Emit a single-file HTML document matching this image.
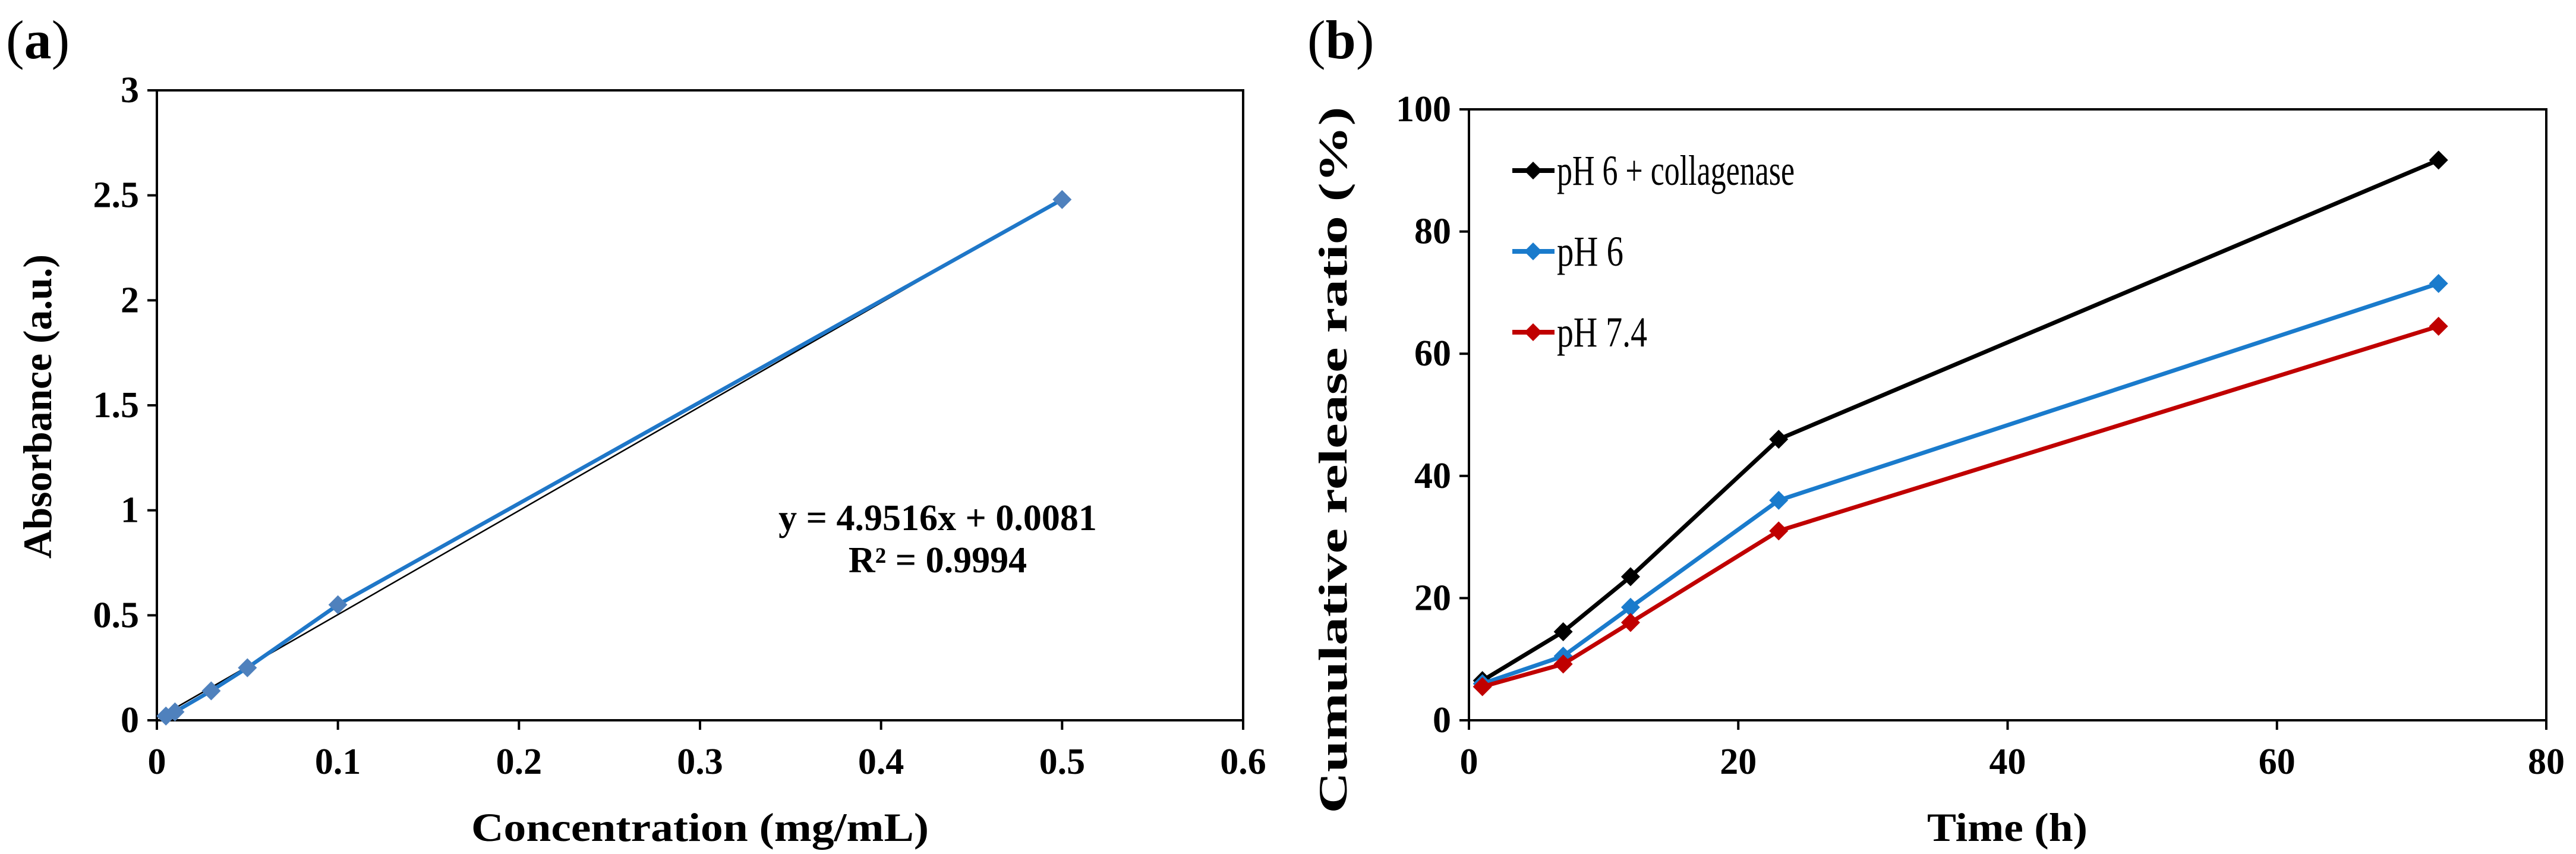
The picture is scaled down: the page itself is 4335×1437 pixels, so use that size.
<!DOCTYPE html>
<html><head><meta charset="utf-8"><style>
html,body{margin:0;padding:0;background:#fff;}
svg{display:block;}
text{font-family:"Liberation Serif",serif;}
</style></head><body>
<svg id="fig" width="4335" height="1437" viewBox="0 0 4335 1437" xmlns="http://www.w3.org/2000/svg">
<text x="10" y="98" font-size="92">(<tspan font-weight="bold">a</tspan>)</text>
<text x="2200" y="98" font-size="92">(<tspan font-weight="bold">b</tspan>)</text>
<g id="ga"></g>
<g id="gb"></g>
</svg>
<script>
// Panel (a) data
const aConc = [0.005, 0.01, 0.03, 0.05, 0.1, 0.5];
const aAbs = [0.02, 0.04, 0.14, 0.25, 0.55, 2.48];
const aSlope = [4.9516];
const aIntercept = [0.0081];
const aXTicks = [0, 0.1, 0.2, 0.3, 0.4, 0.5, 0.6];
const aYTicks = [0, 0.5, 1, 1.5, 2, 2.5, 3];
// Panel (b) data
const bTime = [1, 7, 12, 23, 72];
const bCollagenase = [6.5, 14.5, 23.5, 46, 91.7];
const bPH6 = [6, 10.5, 18.5, 36, 71.5];
const bPH74 = [5.5, 9.2, 16, 31, 64.5];
const bSeriesNames = ["pH 6 +  collagenase", "pH 6", "pH 7.4"];
const bXTicks = [0, 20, 40, 60, 80];
const bYTicks = [0, 20, 40, 60, 80, 100];

const NS = "http://www.w3.org/2000/svg";
function mk(parent, tag, attrs, txt) {
  const e = document.createElementNS(NS, tag);
  for (const k in attrs) e.setAttribute(k, attrs[k]);
  if (txt !== undefined) e.textContent = txt;
  parent.appendChild(e);
  return e;
}
function diamond(g, x, y, r, color) {
  return mk(g, "polygon", {points: `${x},${y-r} ${x+r},${y} ${x},${y+r} ${x-r},${y}`, fill: color});
}
function frame(g, L, R, T, B, xt, yt, sx, sy, fmt) {
  const f = mk(g, "rect", {x: L, y: T, width: R-L, height: B-T, fill: "none", stroke: "#000", "stroke-width": 4});
  
  
  xt.forEach(v => {
    const x = sx(v);
    mk(g, "line", {x1: x, x2: x, y1: B, y2: B+16, stroke: "#000", "stroke-width": 4});
    const t = mk(g, "text", {x: x, y: B+90, "font-size": 62, "font-weight": "bold", "text-anchor": "middle"}, fmt(v));
    
    
  });
  yt.forEach(v => {
    const y = sy(v);
    mk(g, "line", {x1: L-16, x2: L, y1: y, y2: y, stroke: "#000", "stroke-width": 4});
    const t = mk(g, "text", {x: L-30, y: y+20, "font-size": 62, "font-weight": "bold", "text-anchor": "end"}, fmt(v));
    
    
  });
}

// ---- Panel a
(function(){
  const g = document.getElementById("ga");
  const L = 264, R = 2092, T = 152, B = 1212;
  const sx = v => L + (v - 0) / 0.6 * (R - L);
  const sy = v => B - v / 3 * (B - T);
  frame(g, L, R, T, B, aXTicks, aYTicks, sx, sy, v => String(v));
  const x0 = aConc[0], x1 = aConc[aConc.length-1];
  const tl = mk(g, "line", {x1: sx(x0), y1: sy(aSlope[0]*x0+aIntercept[0]), x2: sx(x1), y2: sy(aSlope[0]*x1+aIntercept[0]), stroke: "#000", "stroke-width": 2.5});
  
  
  const pl = mk(g, "polyline", {points: aConc.map((c,i)=>`${sx(c)},${sy(aAbs[i])}`).join(" "), fill: "none", stroke: "#1f77c8", "stroke-width": 6.5});
  
  
  aConc.forEach((c,i) => {
    const d = diamond(g, sx(c), sy(aAbs[i]), 16, "#4f81bd");
    
    
  });
  const e1 = mk(g, "text", {x: 1578, y: 892, "font-size": 62, "font-weight": "bold", "text-anchor": "middle"}, "y = 4.9516x + 0.0081");
  
  
  const e2 = mk(g, "text", {x: 1578, y: 963, "font-size": 62, "font-weight": "bold", "text-anchor": "middle"}, "R² = 0.9994");
  
  
  const xt = mk(g, "text", {x: 1178, y: 1415, "font-size": 68, "font-weight": "bold", "text-anchor": "middle", textLength: 770, lengthAdjust: "spacingAndGlyphs"}, "Concentration (mg/mL)");
  
  
  const yt = mk(g, "text", {x: 0, y: 0, "font-size": 68, "font-weight": "bold", "text-anchor": "middle", transform: "translate(86,684) rotate(-90)", textLength: 512, lengthAdjust: "spacingAndGlyphs"}, "Absorbance (a.u.)");
  
  
})();

// ---- Panel b
(function(){
  const g = document.getElementById("gb");
  const L = 2472, R = 4285, T = 184, B = 1212;
  const sx = v => L + v / 80 * (R - L);
  const sy = v => B - v / 100 * (B - T);
  frame(g, L, R, T, B, bXTicks, bYTicks, sx, sy, v => String(v));
  const series = [bCollagenase, bPH6, bPH74];
  const colors = ["#000000", "#1a7bcc", "#c00000"];
  const names = ["collagenase-line", "ph6-line", "ph74-line"];
  series.forEach((s, k) => {
    const pl = mk(g, "polyline", {points: bTime.map((t,i)=>`${sx(t)},${sy(s[i])}`).join(" "), fill: "none", stroke: colors[k], "stroke-width": 7});
    
    
    bTime.forEach((t,i) => {
      const d = diamond(g, sx(t), sy(s[i]), 16, colors[k]);
      
      
    });
  });
  const ly = [287, 423, 559];
  const lw = [400, 112, 152];
  bSeriesNames.forEach((n, k) => {
    const lg = mk(g, "g", {});
    
    
    mk(lg, "line", {x1: 2545, x2: 2616, y1: ly[k], y2: ly[k], stroke: colors[k], "stroke-width": 8});
    diamond(lg, 2580, ly[k], 15, colors[k]);
    mk(lg, "text", {x: 2620, y: ly[k] + 24, "font-size": 72, textLength: lw[k], lengthAdjust: "spacingAndGlyphs"}, n);
  });
  const xt = mk(g, "text", {x: 3378, y: 1415, "font-size": 68, "font-weight": "bold", "text-anchor": "middle", textLength: 270, lengthAdjust: "spacingAndGlyphs"}, "Time (h)");
  
  
  const yt = mk(g, "text", {x: 0, y: 0, "font-size": 68, "font-weight": "bold", "text-anchor": "middle", transform: "translate(2266,774) rotate(-90)", textLength: 1189, lengthAdjust: "spacingAndGlyphs"}, "Cumulative release  ratio (%)");
  
  
})();
</script>
</body></html>
